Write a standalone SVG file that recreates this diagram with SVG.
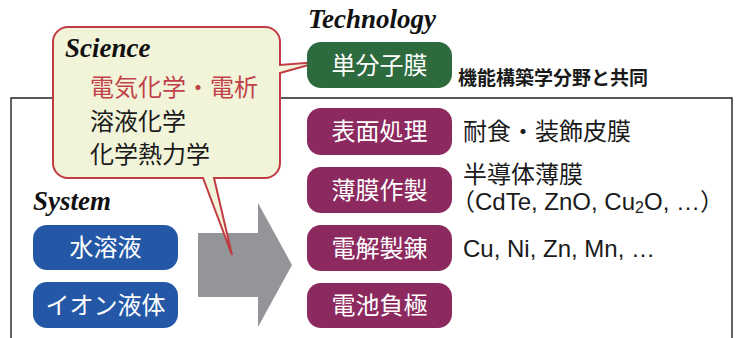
<svg xmlns="http://www.w3.org/2000/svg" width="736" height="338" viewBox="0 0 736 338">
<style>
.title{font-family:"Liberation Serif","Times New Roman",serif;font-weight:bold;font-style:italic;font-size:27px;fill:#111}
.bt{font-family:"Liberation Sans","Noto Sans CJK JP",sans-serif;font-size:24px;fill:#fff;text-anchor:middle}
.tx{font-family:"Liberation Sans","Noto Sans CJK JP",sans-serif;font-size:24px;fill:#1a1a1a}
.sub{font-family:"Noto Sans CJK JP",sans-serif;font-weight:bold;font-size:19px;fill:#1a1a1a}
.pur{fill:#8c2a5f}
.blu{fill:#2458a6}
</style>
<g id="frame"><path d="M11,338 V98 H732 V338" fill="none" stroke="#222" stroke-width="1.4"/></g>
<g id="connectors">
<polygon id="arrow" points="198,233 258,233 258,203 292,265 258,327 258,297 198,297" fill="#939598"/>
</g>
<g id="callout">
<path d="M68,27 H265 A15,15 0 0 1 280,42 V65 L319,62 L280,73 V163 A15,15 0 0 1 265,178 H214 L232,255 L203,178 H68 A15,15 0 0 1 53,163 V42 A15,15 0 0 1 68,27 Z" fill="#f1f4d9" stroke="#c23b43" stroke-width="2" stroke-linejoin="miter"/>
<text class="title" x="65" y="57">Science</text>
<text class="tx" x="90" y="96" style="fill:#c1404a">電気化学・電析</text>
<text class="tx" x="90" y="130">溶液化学</text>
<text class="tx" x="90" y="163">化学熱力学</text>
</g>
<g id="technology">
<text class="title" x="308" y="28">Technology</text>
</g>
<g id="tanbunshimaku">
<rect x="307" y="42" width="145" height="46" rx="14" fill="#2d6a3e"/>
<text class="bt" x="379.5" y="74">単分子膜</text>
</g>
<g id="kyodo"><text class="sub" x="458" y="85">機能構築学分野と共同</text></g>
<g id="hyomen">
<rect class="pur" x="307" y="108" width="145" height="47" rx="14"/>
<text class="bt" x="379.5" y="140">表面処理</text>
</g>
<g id="hakumaku">
<rect class="pur" x="307" y="167" width="145" height="46" rx="14"/>
<text class="bt" x="379.5" y="199">薄膜作製</text>
</g>
<g id="denkai">
<rect class="pur" x="307" y="225" width="145" height="46" rx="14"/>
<text class="bt" x="379.5" y="257">電解製錬</text>
</g>
<g id="denchi">
<rect class="pur" x="307" y="283" width="145" height="45" rx="14"/>
<text class="bt" x="379.5" y="314">電池負極</text>
</g>
<g id="labels">
<text class="tx" x="463" y="140">耐食・装飾皮膜</text>
<text class="tx" x="463" y="183">半導体薄膜</text>
<text class="tx" x="451" y="210">（CdTe, ZnO, Cu<tspan font-size="16" dy="3">2</tspan><tspan dy="-3">O, …）</tspan></text>
<text class="tx" x="463" y="257">Cu, Ni, Zn, Mn, …</text>
</g>
<g id="system">
<text class="title" x="33" y="210">System</text>
</g>
<g id="suiyoeki">
<rect class="blu" x="33" y="225" width="145" height="45" rx="14"/>
<text class="bt" x="105.5" y="256">水溶液</text>
</g>
<g id="ionekitai">
<rect class="blu" x="33" y="282" width="145" height="46" rx="14"/>
<text class="bt" x="105.5" y="314">イオン液体</text>
</g>
</svg>
